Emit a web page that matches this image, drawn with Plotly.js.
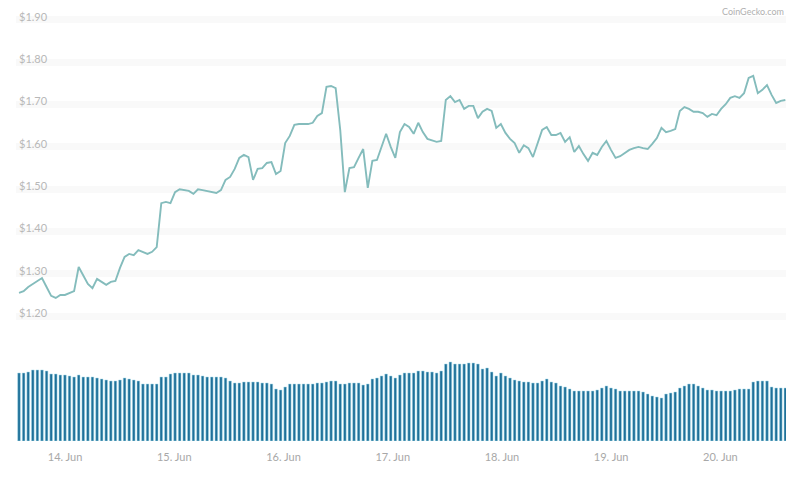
<!DOCTYPE html>
<html>
<head>
<meta charset="utf-8">
<script src="https://cdn.plot.ly/plotly-3.0.1.min.js"></script>
<style>body{margin:0;background:#fff}</style>
</head>
<body>
<div id="chart" style="width:800px;height:477px"></div>
<script>
// hourly-ish samples
var prices = [
1.255,1.259,1.269,1.276,1.281,1.290,1.269,1.248,1.243,1.250,1.250,1.255,1.259,1.316,1.297,1.276,1.266,1.288,1.281,1.274,
1.281,1.283,1.314,1.340,1.347,1.344,1.356,1.352,1.347,1.352,1.363,1.467,1.470,1.467,1.493,1.500,1.498,1.496,1.489,1.500,
1.498,1.496,1.493,1.491,1.498,1.522,1.529,1.548,1.574,1.581,1.576,1.522,1.548,1.550,1.562,1.564,1.536,1.543,1.609,1.626,
1.652,1.654,1.654,1.654,1.657,1.673,1.680,1.742,1.744,1.739,1.640,1.493,1.550,1.552,1.574,1.595,1.503,1.567,1.569,1.602,
1.631,1.600,1.574,1.635,1.654,1.647,1.631,1.657,1.635,1.619,1.616,1.612,1.614,1.711,1.720,1.706,1.711,1.690,1.697,1.697,
1.668,1.683,1.690,1.685,1.645,1.654,1.633,1.619,1.609,1.586,1.604,1.597,1.576,1.609,1.640,1.647,1.628,1.628,1.633,1.612,
1.623,1.588,1.602,1.583,1.567,1.586,1.581,1.600,1.614,1.593,1.574,1.578,1.586,1.593,1.597,1.600,1.597,1.595,1.607,1.621,
1.645,1.635,1.638,1.642,1.685,1.694,1.690,1.683,1.683,1.680,1.671,1.678,1.675,1.690,1.701,1.716,1.720,1.716,1.727,1.763,
1.768,1.727,1.735,1.746,1.723,1.704,1.709,1.711
];
var volumes = [
68,68,69,71,71,71,70,67,67,66,66,65,64,66,64,64,64,63,62,61,60,60,61,63,62,61,60,57,57,57,57,
64,64,67,68,68,68,68,66,66,65,64,64,64,64,63,60,58,58,59,59,59,59,58,58,57,52,51,54,57,57,57,57,57,57,
58,58,59,60,60,57,57,58,58,58,56,57,62,63,65,67,65,63,66,68,68,68,70,70,69,69,68,70,
77,79,77,77,77,78,78,77,72,73,69,65,68,65,63,61,60,59,59,58,58,60,62,59,58,55,54,52,50,50,50,50,50,51,
53,55,53,52,50,50,50,50,50,49,47,45,44,43,47,48,49,53,55,57,57,55,53,51,51,50,50,50,50,51,52,52,52,
59,60,60,60,54,53,53,53
];
var startTime = Date.UTC(2019, 5, 13, 13, 53);
var stepMs = 60.5 * 60000;
var times = prices.map(function (p, i) {
	return new Date(startTime + i * stepMs).toISOString();
});

var priceTrace = {
	x: times,
	y: prices,
	type: 'scatter',
	mode: 'lines',
	line: {color: '#84bcbc', width: 1.9},
	hoverinfo: 'skip'
};
var volumeTrace = {
	x: times,
	y: volumes,
	type: 'bar',
	yaxis: 'y2',
	marker: {color: '#1f7099', line: {color: '#a6dcea', width: 0.5}},
	hoverinfo: 'skip'
};

var layout = {
	width: 800,
	height: 477,
	margin: {l: 16, r: 14, t: 0, b: 36},
	paper_bgcolor: '#fff',
	plot_bgcolor: '#fff',
	showlegend: false,
	bargap: 0.42,
	font: {family: 'Lato, sans-serif', color: '#b4b4b4', size: 11},
	xaxis: {
		type: 'date',
		range: ['2019-06-13 13:13', '2019-06-20 14:25'],
		tick0: '2019-06-14',
		dtick: 86400000,
		tickformat: '%d. %b',
		showgrid: false,
		zeroline: false,
		showline: false,
		ticks: '',
		ticklabelstandoff: 8,
		tickfont: {size: 11, color: '#a8a8a8'},
		anchor: 'y2'
	},
	yaxis: {
		domain: [0.2562, 0.9819],
		range: [1.1719, 1.9284],
		tick0: 1.2,
		dtick: 0.1,
		tickprefix: '$',
		tickformat: '.2f',
		ticklabelposition: 'inside',
		ticklabelshift: -3,
		ticks: '',
		gridcolor: '#f9f9f9',
		gridwidth: 7,
		zeroline: false,
		showline: false,
		tickfont: {size: 11, color: '#b8b8b8'}
	},
	yaxis2: {
		domain: [0, 0.2472],
		range: [0, 109],
		tickvals: [109],
		showticklabels: false,
		ticks: '',
		gridcolor: '#f9f9f9',
		gridwidth: 7,
		zeroline: false,
		showline: false
	},
	annotations: [{
		text: 'CoinGecko.com',
		xref: 'paper',
		yref: 'paper',
		x: 1,
		y: 0.973,
		xanchor: 'right',
		yanchor: 'middle',
		showarrow: false,
		font: {size: 9, color: '#b0b0b0'}
	}]
};

Plotly.newPlot('chart', [priceTrace, volumeTrace], layout, {displayModeBar: false});
</script>
</body>
</html>
